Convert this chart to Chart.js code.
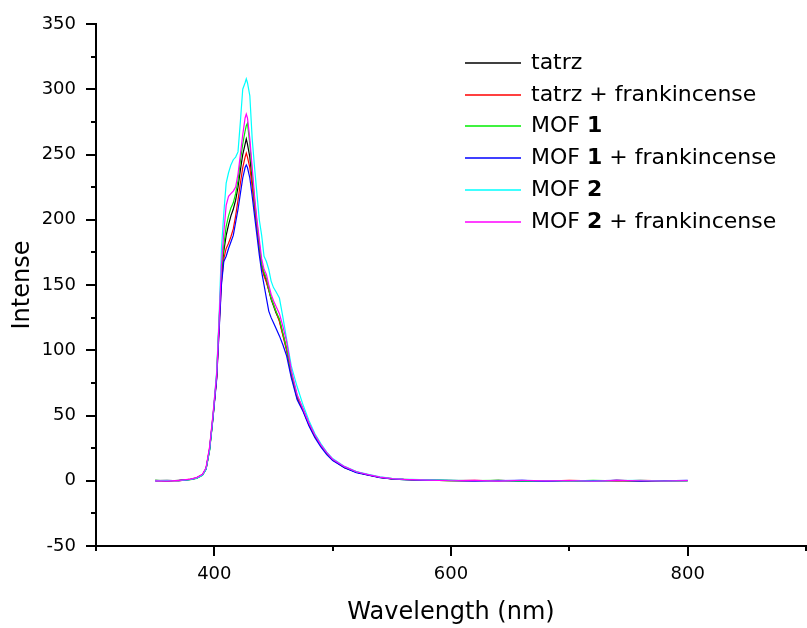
<!DOCTYPE html>
<html>
<head>
<meta charset="utf-8">
<script src="https://cdn.jsdelivr.net/npm/chart.js"></script>
<style>
  body { margin: 0; background: #fff; }
  #box { width: 807px; height: 628px; }
</style>
</head>
<body>
<div id="box"><canvas id="grafico"></canvas></div>
<script>
// comprimento de onda (nm)
let wavelengths = [350,360,370,380,385,390,393,396,399,402,404,406,408,410,412,414,416,418,420,422,424,426,427,428,430,432,434,436,438,440,442,444,446,448,450,452,455,458,461,465,470,475,480,485,490,495,500,510,520,530,540,550,560,580,600,620,640,660,680,700,720,740,760,780,800]

let tatrz = [0.3,-0.2,0.4,1,2,4.5,9,24,50,80,120,158,176,188,196,203,208,215,225,238,250,258,262,258,248,230,212,195,180,165,158,153,146,139,134,129,123,112,101,82,64,54,43,34,27,21,16,10,6.5,4.5,2.5,1.5,1,0.5,0.3,-0.2,0.4,-0.3,0.2,0,-0.4,0.3,-0.1,0.2,0]
let tatrzFrank = [0.1,0.3,-0.1,1.2,2.2,4.8,9.5,25,51,79,116,152,170,178,182,187,193,203,215,228,240,248,251,248,240,225,208,193,178,164,157,152,146,140,135,130,122,111,100,81,63,54,43,34,27,21,16,10.5,6.8,4.4,2.6,1.6,1.1,0.4,0.1,0.3,-0.3,0.2,-0.2,0.4,0,-0.3,0.3,-0.1,0.2]
let mof1 = [0.4,0,0.2,0.9,1.8,4.2,8.8,23,49,82,122,160,180,195,203,209,213,220,230,245,258,268,272,274,258,235,215,198,182,166,160,155,147,140,135,130,124,113,102,83,65,55,44,35,27,21,16,10.5,6.6,4.6,2.7,1.5,0.9,0.6,-0.1,0.2,0.3,-0.4,0.1,-0.2,0.3,0,-0.3,0.1,-0.2]
let mof1Frank = [-0.2,0.2,0.1,1.1,2.1,4.6,9.2,24,49,78,114,150,168,172,178,183,188,198,208,220,232,240,242,240,232,218,203,188,173,160,150,140,130,125,121,117,111,104,96,79,62,53,42,33,26,20,15.5,10,6.2,4.2,2.4,1.4,0.8,0.3,0.2,-0.4,0.1,0.3,-0.5,0.2,-0.1,0.4,-0.3,0,0.3]
let mof2 = [0.2,0.4,0,1,2,4.4,9,24,51,84,125,178,205,228,236,242,246,248,252,275,300,305,308,305,295,262,240,220,200,188,172,168,162,153,148,145,140,125,109,88,72,58,46,36,28.5,22,17,11,7,5,3,1.8,1.2,0.7,0.3,0.1,-0.2,0.3,0,0.2,-0.3,0.1,0.4,-0.2,0.1]
let mof2Frank = [0,-0.3,0.3,1.3,2.4,5,10,26,52,82,122,165,190,211,218,220,222,225,235,250,265,278,281,278,262,240,218,200,185,170,162,158,150,143,138,134,128,118,107,85,66,55,44,35,27.5,21.5,16.5,10.8,6.9,4.7,2.8,1.7,1,0.5,0,0.3,-0.3,0.4,-0.1,0.2,-0.4,0.3,0,-0.2,0.1]

let labels = ["tatrz", "tatrz + frankincense", "MOF 1", "MOF 1 + frankincense", "MOF 2", "MOF 2 + frankincense"]
let cores = ["#000000", "#ff0000", "#00ee00", "#0000ff", "#00ffff", "#ff00ff"]
let series = [tatrz, tatrzFrank, mof1, mof1Frank, mof2, mof2Frank]

let fonte = '"DejaVu Sans", sans-serif'

// tracinhos maiores e menores nos eixos
let marcas = {
    id: "marcas",
    afterDraw(chart) {
        let ctx = chart.ctx
        let x = chart.scales.x, y = chart.scales.y
        ctx.save()
        ctx.strokeStyle = "#000"
        ctx.lineWidth = 2
        for (let t of x.ticks) {
            let px = Math.round(x.getPixelForValue(t.value))
            let len = (t.value % 200 == 0) ? 10 : 5
            ctx.beginPath()
            ctx.moveTo(px, x.top)
            ctx.lineTo(px, x.top + len)
            ctx.stroke()
        }
        for (let t of y.ticks) {
            let py = Math.round(y.getPixelForValue(t.value))
            let len = (t.value % 50 == 0) ? 10 : 5
            ctx.beginPath()
            ctx.moveTo(y.right, py)
            ctx.lineTo(y.right - len, py)
            ctx.stroke()
        }
        ctx.restore()
    }
}

// legenda com os números em negrito
let legenda = {
    id: "legenda",
    afterDraw(chart) {
        let ctx = chart.ctx
        ctx.save()
        ctx.textBaseline = "middle"
        chart.data.datasets.forEach((ds, i) => {
            let yy = Math.round(63 + i * 31.7)
            ctx.strokeStyle = cores[i]
            ctx.lineWidth = 1.6
            ctx.beginPath()
            ctx.moveTo(465, yy)
            ctx.lineTo(521, yy)
            ctx.stroke()
            let xx = 531
            ctx.fillStyle = "#000"
            ds.label.split(" ").forEach((parte, k) => {
                if (k > 0) {
                    ctx.font = "22px " + fonte
                    xx += ctx.measureText(" ").width
                }
                ctx.font = (/^\d+$/.test(parte) ? "bold " : "") + "22px " + fonte
                ctx.fillText(parte, xx, yy)
                xx += ctx.measureText(parte).width
            })
        })
        ctx.restore()
    }
}

let datasets = series.map((valores, i) => ({
    label: labels[i],
    data: wavelengths.map((w, j) => ({ x: w, y: valores[j] })),
    borderColor: cores[i],
    borderWidth: 1.2,
    pointRadius: 0,
    tension: 0,
    order: series.length - i
}))

new Chart("grafico", {
    type: "line",
    data: { datasets: datasets },
    plugins: [marcas, legenda],
    options: {
        responsive: true,
        maintainAspectRatio: false,
        animation: false,
        layout: { padding: { top: 24, right: 1, left: 0, bottom: 0 } },
        plugins: { legend: { display: false }, tooltip: { enabled: false } },
        scales: {
            x: {
                type: "linear",
                min: 300, max: 900,
                afterFit: s => { s.height = 82; s.paddingLeft = 0; s.paddingRight = 0 },
                grid: { display: false, drawTicks: false },
                border: { display: true, color: "#000", width: 2 },
                ticks: {
                    stepSize: 100,
                    padding: 18,
                    color: "#000",
                    font: { family: fonte, size: 18 },
                    callback: v => (v % 200 == 0 ? String(v) : "")
                },
                title: {
                    display: true,
                    text: "Wavelength (nm)",
                    color: "#000",
                    font: { family: fonte, size: 24 },
                    padding: { top: 0, bottom: 1 }
                }
            },
            y: {
                min: -50, max: 350,
                afterFit: s => { s.width = 96; s.paddingTop = 0; s.paddingBottom = 0 },
                grid: { display: false, drawTicks: false },
                border: { display: true, color: "#000", width: 2 },
                ticks: {
                    stepSize: 25,
                    padding: 20,
                    color: "#000",
                    font: { family: fonte, size: 18 },
                    callback: v => (v % 50 == 0 ? String(v) : "")
                },
                title: {
                    display: true,
                    text: "Intense",
                    color: "#000",
                    font: { family: fonte, size: 24 },
                    padding: { top: 8, bottom: 0 }
                }
            }
        }
    }
})
</script>
</body>
</html>
